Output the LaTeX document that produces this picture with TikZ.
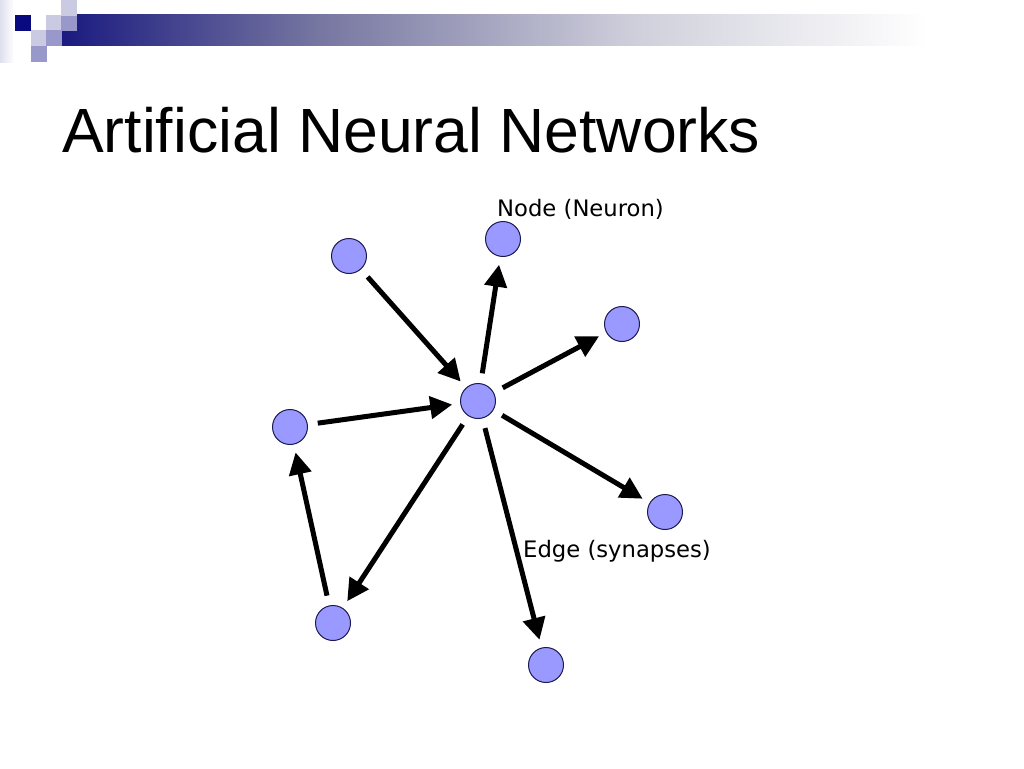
\documentclass[tikz,border=0pt]{standalone}
\usepackage{fontspec}
\setmainfont{Liberation Sans}
\newfontfamily\labelfont{DejaVu Sans}
\usepackage{tikz}
\usetikzlibrary{arrows.meta}
\definecolor{barnavy}{HTML}{1A1A80}
\definecolor{barmid}{HTML}{7474A0}
\definecolor{barlight}{HTML}{D0D0DC}
\definecolor{sqdark}{HTML}{0A0A80}
\definecolor{sqlight}{HTML}{CACAE2}
\definecolor{sqmid}{HTML}{9898CA}
\definecolor{neuronfill}{HTML}{9999FF}
\definecolor{neuronline}{HTML}{1A1A50}
\pgfdeclarehorizontalshading{barshade}{100bp}{color(0bp)=(barnavy); color(25bp)=(barnavy); color(38bp)=(barmid); color(55bp)=(barlight); color(70bp)=(white); color(100bp)=(white)}

\begin{document}
\begin{tikzpicture}[x=1pt,y=-1pt,
  every node/.style={font=\labelfont\fontsize{22.7}{26}\selectfont},
  neuron/.style={circle,draw=neuronline,fill=neuronfill,line width=1pt,minimum size=35pt,inner sep=0pt},
  sq/.style={inner sep=0pt,minimum size=15.5pt,anchor=north west},
  syn/.style={-{Triangle[length=22pt,width=22pt]},line width=5pt,shorten <=10pt,shorten >=8pt}
]
  \useasboundingbox[fill=white] (0,0) rectangle (1024,768);
  \shade[left color=sqlight!60,right color=white] (0,0) rectangle (14,62);
  \shade[shading=barshade] (61,15) rectangle (1024,46);
  \node[sq,fill=sqdark] (sqa) at (15,15) {};
  \node[sq,fill=sqlight] (sqb) at (46,15) {};
  \node[sq,fill=sqmid] (sqc) at (61,15) {};
  \node[sq,fill=sqlight] (sqd) at (61,0) {};
  \node[sq,fill=sqlight] (sqe) at (31,30) {};
  \node[sq,fill=sqmid] (sqf) at (46,30) {};
  \node[sq,fill=sqmid] (sqg) at (31,46) {};
  \node[anchor=base west,inner sep=0pt,font=\fontsize{62.5}{70}\selectfont] (title) at (62,152)
    {Artificial Neural Networks};
  \node[neuron] (hub) at (478,401) {};
  \node[neuron] (inA) at (349,256) {};
  \node[neuron] (inB) at (290,427) {};
  \node[neuron] (loop) at (333,623) {};
  \node[neuron] (outA) at (503,239) {};
  \node[neuron] (outB) at (622,324) {};
  \node[neuron] (outC) at (665,512) {};
  \node[neuron] (outD) at (546,665) {};
  \node[anchor=base west,inner sep=0pt] (nodelbl) at (497,216) {Node (Neuron)};
  \node[anchor=base west,inner sep=0pt] (edgelbl) at (523,557) {Edge (synapses)};
  \draw[syn] (inA) -- (hub);
  \draw[syn] (inB) -- (hub);
  \draw[syn] (hub) -- (outA);
  \draw[syn] (hub) -- (outB);
  \draw[syn] (hub) -- (outC);
  \draw[syn] (hub) -- (outD);
  \draw[syn] (hub) -- (loop);
  \draw[syn] (loop) -- (inB);
\end{tikzpicture}
\end{document}
